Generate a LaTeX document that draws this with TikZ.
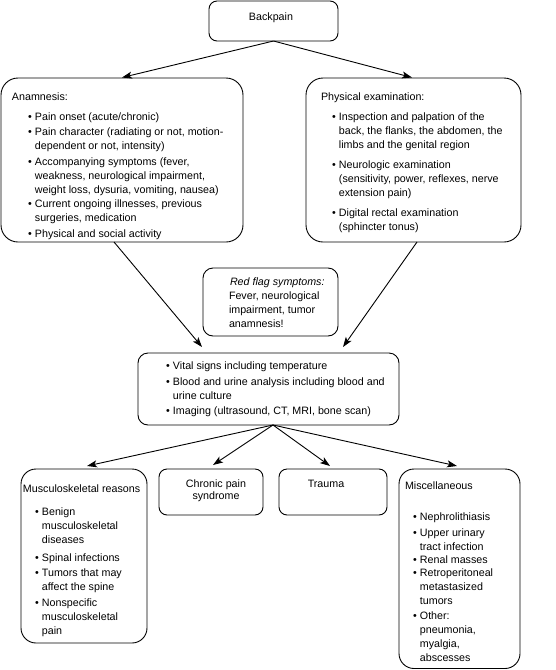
\documentclass[tikz,border=0pt]{standalone}
\usepackage{fontspec}
\setmainfont{Liberation Sans}
\usetikzlibrary{arrows.meta,calc}
\tikzset{
  box/.style={draw, line width=0.9pt, rounded corners=#1, anchor=north west, inner sep=0pt, outer sep=0pt},
  box/.default=12pt,
  txt/.style={anchor=base west, inner sep=0pt, outer sep=0pt, font=\fontsize{10.7}{14}\selectfont},
  arr/.style={line width=0.9pt, -{Stealth[length=10pt,width=7pt,inset=2.5pt]}}
}
\newcommand\blist[1]{\begin{tabular}[t]{@{}l@{\hspace{3.2pt}}l@{}}#1\end{tabular}}
\newcommand\bul{\textbullet&}
\begin{document}
\begin{tikzpicture}[x=1pt,y=-1pt]
\useasboundingbox (0,0) rectangle (555,670);
% boxes
\node[box=8pt, minimum width=129pt, minimum height=40pt] (bp) at (209,1) {};
\node[box=17pt, minimum width=242pt, minimum height=164pt] (anam) at (1,78) {};
\node[box=17pt, minimum width=215pt, minimum height=164pt] (phys) at (306,78) {};
\node[box=10pt, minimum width=135pt, minimum height=68pt] (red) at (203,268) {};
\node[box=10pt, minimum width=261pt, minimum height=72pt] (ctr) at (138,353) {};
\node[box=15pt, minimum width=126pt, minimum height=174pt] (mus) at (21,469) {};
\node[box=8pt, minimum width=104pt, minimum height=46pt] (chr) at (159,469) {};
\node[box=8pt, minimum width=108pt, minimum height=46pt] (tra) at (279,469) {};
\node[box=15pt, minimum width=121pt, minimum height=199.5pt] (mis) at (399,469) {};
% texts
\node[txt, anchor=base] (tbp) at (271,20) {Backpain};
\node[txt] (tanh) at (12,100) {Anamnesis:};
\node[txt] (tanl) at (28,120) {\blist{
\bul Pain onset (acute/chronic)\\[1pt]
\bul Pain character (radiating or not, motion-\\
& dependent or not, intensity)\\[2pt]
\bul Accompanying symptoms (fever,\\
& weakness, neurological impairment,\\
& weight loss, dysuria, vomiting, nausea)\\
\bul Current ongoing illnesses, previous\\
& surgeries, medication\\[2pt]
\bul Physical and social activity}};
\node[txt] (tphh) at (321,100) {Physical examination:};
\node[txt] (tphl) at (332,120) {\blist{
\bul Inspection and palpation of the\\
& back, the flanks, the abdomen, the\\
& limbs and the genital region\\[6pt]
\bul Neurologic examination\\
& (sensitivity, power, reflexes, nerve\\
& extension pain)\\[6pt]
\bul Digital rectal examination\\
& (sphincter tonus)}};
\node[txt] (tred) at (229,285) {\begin{tabular}[t]{@{}l@{}}
\hspace{1pt}\textit{Red flag symptoms:}\\
Fever, neurological\\
impairment, tumor\\
anamnesis!\end{tabular}};
\node[txt] (tctr) at (166,369) {\blist{
\bul Vital signs including temperature\\[2pt]
\bul Blood and urine analysis including blood and\\
& urine culture\\[1pt]
\bul Imaging (ultrasound, CT, MRI, bone scan)}};
\node[txt] (tmuh) at (23,492) {Musculoskeletal reasons};
\node[txt] (tmul) at (35,515) {\blist{
\bul Benign\\
& musculoskeletal\\
& diseases\\[4pt]
\bul Spinal infections\\[1pt]
\bul Tumors that may\\
& affect the spine\\[2pt]
\bul Nonspecific\\
& musculoskeletal\\
& pain}};
\node[txt, anchor=base] (tchr) at (216,487) {\begin{tabular}[t]{@{}c@{}}Chronic pain\\[-2pt] syndrome\end{tabular}};
\node[txt, anchor=base] (ttra) at (326,487) {Trauma};
\node[txt] (tmih) at (405,489) {Miscellaneous};
\node[txt] (tmil) at (413,520) {\blist{
\bul Nephrolithiasis\\[2pt]
\bul Upper urinary\\
& tract infection\\[-1pt]
\bul Renal masses\\[-1pt]
\bul Retroperitoneal\\
& metastasized\\
& tumors\\[1pt]
\bul Other:\\
& pneumonia,\\
& myalgia,\\
& abscesses}};
% arrow end points
\coordinate (a1) at ($(anam.south)+(-8,0)$);
\coordinate (p1) at ($(phys.south)+(3.5,0)$);
\coordinate (c1) at ($(ctr.north)+(-66.5,-6)$);
\coordinate (c2) at ($(ctr.north)+(74.5,-6)$);
\coordinate (cs) at ($(ctr.south)+(4.5,0)$);
\coordinate (m1) at ($(mus.north)+(3,-3)$);
\coordinate (h1) at ($(chr.north)+(2,-4)$);
\coordinate (t1) at ($(tra.north)+(-3,-3)$);
\coordinate (s1) at ($(mis.north)+(-2.5,-3)$);
% connectors
\draw[arr] (bp.south) -- ($(anam.north)+(0,-0.5)$);
\draw[arr] (bp.south) -- ($(phys.north)+(-1.5,-0.5)$);
\draw[arr] (a1) -- (c1);
\draw[arr] (p1) -- (c2);
\draw[arr] (cs) -- (m1);
\draw[arr] (cs) -- (h1);
\draw[arr] (cs) -- (t1);
\draw[arr] (cs) -- (s1);
\end{tikzpicture}
\end{document}
